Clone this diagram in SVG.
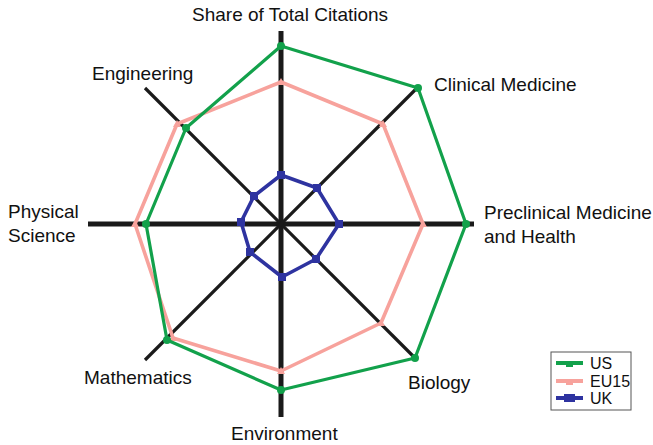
<svg xmlns="http://www.w3.org/2000/svg" width="653" height="445" viewBox="0 0 653 445">
<style>
text{font-family:"Liberation Sans",Arial,sans-serif;font-size:19px;fill:#111}
.ax{stroke:#1a1a1a;stroke-width:5;fill:none}
.dg{stroke:#1a1a1a;stroke-width:3.2;fill:none}
.us{stroke:#12a14b;stroke-width:3.2;fill:none;stroke-linejoin:round}
.eu{stroke:#f7a29c;stroke-width:3.6;fill:none;stroke-linejoin:round}
.uk{stroke:#2e33a0;stroke-width:3.6;fill:none;stroke-linejoin:round}
.mus{fill:#12a14b}
.meu{fill:#f7a29c}
.muk{fill:#2e33a0}
.lg{font-size:16px}
</style>
<rect width="653" height="445" fill="#fff"/>
<g id="axes">
<line class="ax" x1="281" y1="31" x2="281" y2="417"/>
<line class="ax" x1="88" y1="224" x2="474" y2="224"/>
<line class="dg" x1="145" y1="88" x2="417" y2="360"/>
<line class="dg" x1="417" y1="88" x2="145" y2="360"/>
</g>
<g id="labels">
<text x="192" y="21">Share of Total Citations</text>
<text x="434" y="91">Clinical Medicine</text>
<text x="484" y="219">Preclinical Medicine</text>
<text x="484" y="243">and Health</text>
<text x="408" y="389">Biology</text>
<text x="231" y="440">Environment</text>
<text x="84" y="384">Mathematics</text>
<text x="8" y="218">Physical</text>
<text x="8" y="242">Science</text>
<text x="92" y="80">Engineering</text>
</g>
<g id="series-eu15">
<polygon class="eu" points="281,82 383,124 423,224 381,323 281,371 173,338 135,224 177,124"/>
<g class="meu">
<path d="M281,78 l4,7 h-8z"/><path d="M383,120 l4,7 h-8z"/><path d="M423,220 l4,7 h-8z"/><path d="M381,319 l4,7 h-8z"/><path d="M281,367 l4,7 h-8z"/><path d="M173,334 l4,7 h-8z"/><path d="M135,220 l4,7 h-8z"/><path d="M177,120 l4,7 h-8z"/>
</g>
</g>
<g id="series-us">
<polygon class="us" points="281,46 418,88 466,224 415,358 281,390 167,340 146,224 186,128"/>
<g class="mus">
<circle cx="281" cy="46" r="4"/><circle cx="418" cy="88" r="4"/><circle cx="466" cy="224" r="4"/><circle cx="415" cy="358" r="4"/><circle cx="281" cy="390" r="4"/><circle cx="167" cy="340" r="4"/><circle cx="146" cy="224" r="4"/><circle cx="186" cy="128" r="4"/>
</g>
</g>
<g id="series-uk">
<polygon class="uk" points="281,175 317,188 339,224 316,259 282,277 250,252 241,222 254,196"/>
<g class="muk">
<rect x="277" y="171" width="8" height="8"/><rect x="313" y="184" width="8" height="8"/><rect x="335" y="220" width="8" height="8"/><rect x="312" y="255" width="8" height="8"/><rect x="278" y="273" width="8" height="8"/><rect x="246" y="248" width="8" height="8"/><rect x="237" y="218" width="8" height="8"/><rect x="250" y="192" width="8" height="8"/>
</g>
</g>
<g id="legend">
<rect x="551" y="352" width="80" height="58" fill="#fff" stroke="#555" stroke-width="1"/>
<line x1="556" y1="363" x2="583" y2="363" stroke="#12a14b" stroke-width="4"/>
<rect x="566" y="363" width="7" height="4" fill="#12a14b"/>
<text class="lg" x="590" y="369">US</text>
<line x1="556" y1="381" x2="583" y2="381" stroke="#f7a29c" stroke-width="4"/>
<rect x="566" y="381" width="7" height="4" fill="#f7a29c"/>
<text class="lg" x="590" y="387">EU15</text>
<line x1="556" y1="398" x2="583" y2="398" stroke="#2e33a0" stroke-width="4"/>
<rect x="564" y="394" width="11" height="8" fill="#2e33a0"/>
<text class="lg" x="590" y="404">UK</text>
</g>
</svg>
